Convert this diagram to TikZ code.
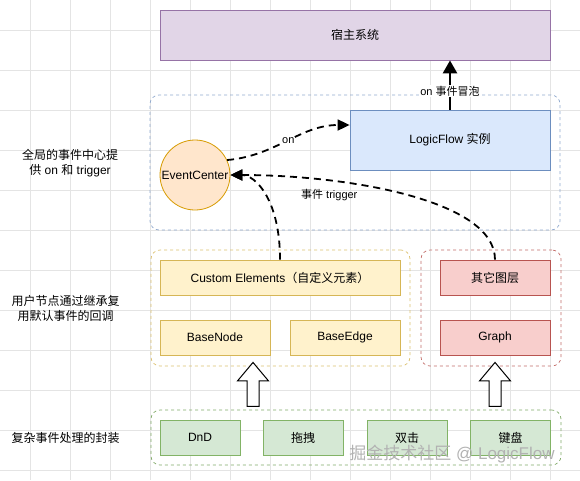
\documentclass[tikz,border=0pt]{standalone}
\usepackage{fontspec}
\setmainfont{Liberation Sans}
\newfontfamily\cjk{Noto Sans CJK SC}
\usetikzlibrary{arrows.meta,shapes.arrows}
\newcommand{\zh}[1]{{\cjk #1}}
\definecolor{hostfill}{HTML}{E1D5E7}
\definecolor{hostline}{HTML}{9673A6}
\definecolor{lffill}{HTML}{DAE8FC}
\definecolor{lfline}{HTML}{6C8EBF}
\definecolor{ecfill}{HTML}{FFE6CC}
\definecolor{ecline}{HTML}{D79B00}
\definecolor{ylwfill}{HTML}{FFF2CC}
\definecolor{ylwline}{HTML}{D6B656}
\definecolor{redfill}{HTML}{F8CECC}
\definecolor{redline}{HTML}{B85450}
\definecolor{grnfill}{HTML}{D5E8D4}
\definecolor{grnline}{HTML}{82B366}
\definecolor{gridline}{HTML}{E4E4E4}

\begin{document}
\begin{tikzpicture}[x=1pt, y=-1pt,
    every node/.style={font=\fontsize{12}{15}\selectfont, inner sep=0pt, text=black},
    box/.style={draw, rectangle, line width=0.8pt, minimum height=35pt},
    grp/.style={draw, rectangle, rounded corners=9pt, line width=0.7pt, dash pattern=on 3pt off 3pt},
    evt/.style={draw=black, line width=1.8pt, dash pattern=on 7pt off 5pt, -{Triangle[width=11pt,length=12pt]}},
    tag/.style={font=\fontsize{11}{13}\selectfont, fill=white, inner sep=1pt},
    hollow/.style={draw=black, fill=white, line width=1pt, single arrow, shape border rotate=90,
      inner sep=5.5pt, minimum height=44pt, minimum width=30pt,
      single arrow head extend=9.5pt, single arrow tip angle=80}]

    \useasboundingbox[fill=white] (0,0) rectangle (580,480);
    \foreach \g in {30,70,...,550} \draw[gridline, line width=0.6pt] (\g,0) -- (\g,480);
    \foreach \g in {30,70,...,470} \draw[gridline, line width=0.6pt] (0,\g) -- (580,\g);

    \node (host) at (355,35) [box, fill=hostfill, draw=hostline, minimum width=390pt, minimum height=50pt] {\zh{宿主系统}};

    \node (core) at (355,162.5) [grp, draw=lfline!75!white, minimum width=410pt, minimum height=135pt] {};
    \node (lf) at (450,140) [box, fill=lffill, draw=lfline, minimum width=200pt, minimum height=60pt] {LogicFlow \zh{实例}};
    \node (ec) at (195,175) [circle, draw=ecline, fill=ecfill, line width=0.8pt, minimum size=70pt] {EventCenter};

    \node (user) at (280.5,308) [grp, draw=ylwline!85!white, minimum width=259pt, minimum height=116pt] {};
    \node (ce) at (280,277.5) [box, fill=ylwfill, draw=ylwline, minimum width=240pt] {Custom Elements\zh{（自定义元素）}};
    \node (bn) at (215,337.5) [box, fill=ylwfill, draw=ylwline, minimum width=110pt] {BaseNode};
    \node (be) at (345,337.5) [box, fill=ylwfill, draw=ylwline, minimum width=110pt] {BaseEdge};

    \node (layer) at (491,308) [grp, draw=redline!85!white, minimum width=140pt, minimum height=116pt] {};
    \node (other) at (495,277.5) [box, fill=redfill, draw=redline, minimum width=110pt] {\zh{其它图层}};
    \node (graph) at (495,337.5) [box, fill=redfill, draw=redline, minimum width=110pt] {Graph};

    \node (wrap) at (356,437.5) [grp, draw=grnline!85!gray, minimum width=410pt, minimum height=55pt] {};
    \node (dnd) at (200,437.5) [box, fill=grnfill, draw=grnline, minimum width=80pt] {DnD};
    \node (drag) at (303,437.5) [box, fill=grnfill, draw=grnline, minimum width=80pt] {\zh{拖拽}};
    \node (dbl) at (407,437.5) [box, fill=grnfill, draw=grnline, minimum width=80pt] {\zh{双击}};
    \node (kbd) at (510.5,437.5) [box, fill=grnfill, draw=grnline, minimum width=80pt] {\zh{键盘}};

    \node (t1) at (70,163.5) [align=center] {\zh{全局的事件中心提}\\\zh{供} on \zh{和} trigger};
    \node (t2) at (65.5,308.5) [align=center] {\zh{用户节点通过继承复}\\\zh{用默认事件的回调}};
    \node (t3) at (65.5,437.5) {\zh{复杂事件处理的封装}};

    \node (up1) at (253,388) [hollow] {};
    \node (up2) at (495,388) [hollow] {};

    \draw[line width=2.6pt, -{Triangle[width=14pt,length=13pt]}] (lf.north) -- (lf.north |- host.south)
      node[tag, pos=0.38] {on \zh{事件冒泡}};
    \draw[evt] (ec.25) to[out=5, in=180] node[tag] {on} ([yshift=15pt]lf.west);
    \draw[evt] (ce.north) .. controls +(0,-60) and +(25,0) .. (ec.east);
    \draw[evt] (other.north) .. controls +(0,-60) and +(115,0) .. (ec.east)
      node[pos=0.725, below=8pt, font=\fontsize{11}{13}\selectfont] {\zh{事件} trigger};

    \node (mark) at (452,454) [font=\fontsize{17}{20}\selectfont, text=gray!60] {\zh{掘金技术社区} @ LogicFlow};
\end{tikzpicture}
\end{document}
